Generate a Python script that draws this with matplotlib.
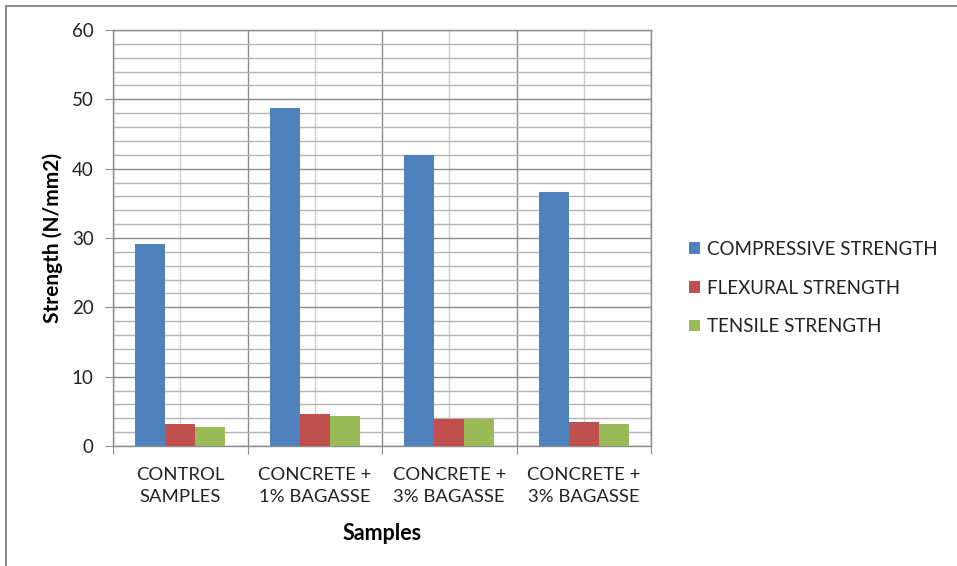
import matplotlib.pyplot as plt
import numpy as np
from matplotlib.lines import Line2D

# Data
samples = ["CONTROL\nSAMPLES", "CONCRETE +\n1% BAGASSE", "CONCRETE +\n3% BAGASSE", "CONCRETE +\n3% BAGASSE"]
compressive = [29.1, 48.8, 42.0, 36.6]
flexural = [3.2, 4.6, 3.9, 3.5]
tensile = [2.8, 4.3, 3.9, 3.2]
series_names = ["COMPRESSIVE STRENGTH", "FLEXURAL STRENGTH", "TENSILE STRENGTH"]
colors = ["#4F81BD", "#C0504D", "#9BBB59"]

plt.rcParams['font.family'] = ['Lato', 'DejaVu Sans']

fig = plt.figure(figsize=(9.57, 5.66), dpi=100)
ax = fig.add_axes([113/957, 120/566, 538/957, 416/566])

x = np.arange(len(samples))
w = 0.223
for i, (vals, name, c) in enumerate(zip([compressive, flexural, tensile], series_names, colors)):
    ax.bar(x + (i - 1) * w, vals, w, color=c, label=name, zorder=3)

ax.set_xlim(-0.5, 3.5)
ax.set_ylim(0, 60)

# y grid: major every 10, minor every 2
ax.set_yticks(range(0, 61, 10))
ax.set_yticks(range(0, 61, 2), minor=True)
# x: boundaries as major ticks, labels at centers
ax.set_xticks(np.arange(-0.5, 4, 1))
ax.set_xticklabels([])
ax.set_xticks(x, minor=True)
ax.set_xticklabels(samples, minor=True, fontsize=13.3, color="#222222", linespacing=1.5)

ax.grid(which='major', axis='y', color='#8c8c8c', linewidth=1.0, zorder=0)
ax.grid(which='minor', axis='y', color='#b4b4b4', linewidth=1.0, zorder=0)
ax.grid(which='major', axis='x', color='#8c8c8c', linewidth=1.0, zorder=0)
ax.grid(which='minor', axis='x', color='#cfcfcf', linewidth=1.0, zorder=0)

ax.tick_params(axis='y', which='major', length=6, color='#8c8c8c', labelsize=13.5, labelcolor='#222222', pad=8)
ax.tick_params(axis='y', which='minor', length=0)
ax.tick_params(axis='x', which='major', length=6, color='#8c8c8c')
ax.tick_params(axis='x', which='minor', length=0, pad=15)

for s in ax.spines.values():
    s.set_color('#8c8c8c')
    s.set_linewidth(1.0)

ax.set_ylabel("Strength (N/mm2)", fontsize=15, fontweight='bold', labelpad=6)
ax.set_xlabel("Samples", fontsize=15.5, fontweight='bold', labelpad=13)

ax.legend(loc='center left', bbox_to_anchor=(672/957, 1 - 288/566), bbox_transform=fig.transFigure,
          frameon=False, fontsize=13.5, handlelength=0.6, handleheight=0.6, handletextpad=0.35,
          labelspacing=1.15, labelcolor='#222222')

# outer chart border (top and left only visible)
fig.add_artist(Line2D([5.5/957, 5.5/957], [0, 1 - 6/566], color='#8c8c8c', lw=1.5))
fig.add_artist(Line2D([5.5/957, 1], [1 - 6/566, 1 - 6/566], color='#8c8c8c', lw=1.5))

plt.savefig("out.png", dpi=100)
